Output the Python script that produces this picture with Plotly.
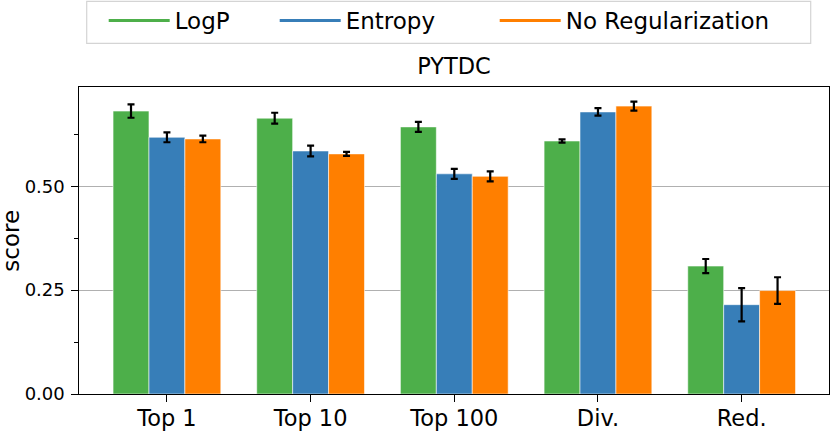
import plotly.graph_objects as go

categories = ["Top 1", "Top 10", "Top 100", "Div.", "Red."]
series_names = ["LogP", "Entropy", "No Regularization"]
logp_vals = [0.681, 0.664, 0.643, 0.609, 0.308]
logp_err = [0.016, 0.013, 0.012, 0.004, 0.017]
entropy_vals = [0.618, 0.585, 0.530, 0.679, 0.215]
entropy_err = [0.012, 0.013, 0.012, 0.009, 0.040]
noreg_vals = [0.614, 0.578, 0.524, 0.693, 0.249]
noreg_err = [0.008, 0.005, 0.012, 0.011, 0.032]
colors = ["#4daf4a", "#377eb8", "#ff7f00"]
y_tick_vals = [0.0, 0.25, 0.5]
y_tick_text = ["0.00", "0.25", "0.50"]
y_minor_vals = [0.125, 0.375, 0.625]

FONT = "DejaVu Sans"
W, H = 831, 431
PL, PR, PT, PB = 79.3, 829.3, 86.7, 394.3


def px_x(p):
    return (p - PL) / (PR - PL)


def px_y(p):
    return (PB - p) / (PB - PT)


fig = go.Figure()
for name, vals, errs, col in zip(series_names,
                                 [logp_vals, entropy_vals, noreg_vals],
                                 [logp_err, entropy_err, noreg_err], colors):
    fig.add_trace(go.Bar(
        x=categories, y=vals, name=name, showlegend=False,
        marker=dict(color=col, line=dict(color="rgba(255,255,255,0.7)", width=0.8)),
        error_y=dict(type="data", array=errs, color="black", thickness=2.2, width=3.5),
    ))
legend_ids = ["legend", "legend2", "legend3"]
legend_line_starts = [108, 279, 499]
for name, col, lid in zip(series_names, colors, legend_ids):
    fig.add_trace(go.Scatter(x=[None], y=[None], mode="lines", name=name, legend=lid,
                             line=dict(color=col, width=3)))

leg_common = dict(orientation="h", xanchor="left", yanchor="middle", y=px_y(20),
                  bgcolor="rgba(0,0,0,0)", borderwidth=0,
                  font=dict(size=23, family=FONT, color="black"), itemwidth=61)
legends = {}
for lid, ls in zip(legend_ids, legend_line_starts):
    legends[lid] = dict(leg_common, x=px_x(ls - 4))

fig.update_layout(
    width=W, height=H,
    margin=dict(l=79, r=2, t=87, b=37, autoexpand=False),
    plot_bgcolor="white", paper_bgcolor="white",
    barmode="group", bargap=0.25, bargroupgap=0,
    font=dict(family=FONT, color="black"),
    title=dict(text="PYTDC", x=0.5, xref="paper", xanchor="center",
               y=(H - 66) / H, yref="container", yanchor="middle",
               font=dict(size=22.5, family=FONT, color="black")),
    xaxis=dict(range=[-0.612, 4.608], showline=True, linecolor="black", linewidth=1.3,
               mirror=True, ticks="outside", ticklen=6.5, tickcolor="black", tickwidth=1.3,
               tickfont=dict(size=22.5), showgrid=False, automargin=False,
               ticklabelstandoff=-3),
    yaxis=dict(range=[0, 0.739], showline=True, linecolor="black", linewidth=1.3,
               mirror=True, ticks="outside", ticklen=6.5, tickcolor="black", tickwidth=1.3,
               tickvals=y_tick_vals, ticktext=y_tick_text, tickfont=dict(size=18),
               ticklabelstandoff=3, automargin=False,
               showgrid=True, gridcolor="#b0b0b0", gridwidth=1.3, zeroline=False,
               minor=dict(tickvals=y_minor_vals, ticks="outside", ticklen=3.5,
                          tickcolor="black", tickwidth=1.1, showgrid=False)),
    shapes=[dict(type="rect", xref="paper", yref="paper",
                 x0=px_x(87), x1=px_x(811), y0=px_y(43), y1=px_y(1),
                 line=dict(color="#d4d4d4", width=1.2), fillcolor="white", layer="below")],
    annotations=[dict(text="score", textangle=-90, xref="paper", yref="paper",
                      x=px_x(10.5), y=0.5, xanchor="center", yanchor="middle",
                      showarrow=False, font=dict(size=23, family=FONT, color="black"))],
    **legends,
)
fig.write_html("out.html", config={"displayModeBar": False},
               post_script="document.body.style.margin='0';document.body.style.overflow='hidden';")
